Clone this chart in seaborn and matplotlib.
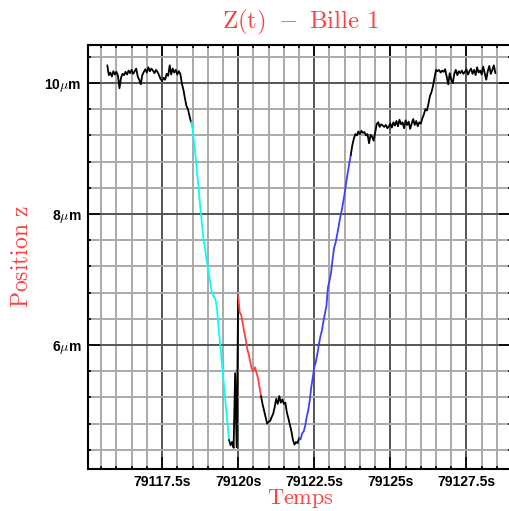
import numpy as np
import pandas as pd
import matplotlib
matplotlib.use("Agg")
import matplotlib.pyplot as plt
import seaborn as sns
from matplotlib.ticker import MultipleLocator, FuncFormatter

# ---------------- data (sampling step 0.05 s) ----------------
DT = 0.05
seg_names = ["black1", "cyan", "black2", "red", "black3", "blue", "black4"]
seg_colors = ["black", "#00FFFF", "black", "#FF4040", "black", "#4040FF", "black"]
seg_start = [79115.70, 79118.45, 79119.70, 79120.00, 79120.75, 79122.00, 79123.70]

z_black1 = [10.27, 10.12, 10.16, 10.10, 10.18, 10.13, 10.17, 10.11, 9.92, 10.08,
            10.14, 10.12, 10.17, 10.13, 10.19, 10.15, 10.20, 10.14, 10.18, 10.22,
            10.10, 10.05, 9.98, 10.12, 10.17, 10.21, 10.16, 10.24, 10.18, 10.22,
            10.19, 10.15, 10.20, 10.17, 10.12, 10.06, 10.03, 10.08, 10.05, 10.14,
            10.11, 10.27, 10.13, 10.22, 10.16, 10.20, 10.13, 10.18, 10.14, 9.99,
            9.90, 9.77, 9.65, 9.60, 9.50, 9.40]
z_cyan = [9.40, 9.30, 9.10, 8.88, 8.62, 8.40, 8.12, 7.90, 7.65, 7.50,
          7.33, 7.20, 7.06, 6.90, 6.78, 6.74, 6.70, 6.58, 6.30, 6.05,
          5.80, 5.55, 5.30, 5.05, 4.80, 4.55]
z_black2 = [4.55, 4.47, 4.52, 4.43, 5.57, 4.44, 6.76]
z_red = [6.76, 6.50, 6.46, 6.33, 6.20, 6.08, 5.94, 5.85, 5.74, 5.63,
         5.60, 5.66, 5.58, 5.50, 5.36, 5.22]
z_black3 = [5.22, 5.10, 5.00, 4.90, 4.80, 4.83, 4.84, 4.90, 4.95, 5.05,
            5.18, 5.10, 5.22, 5.12, 5.17, 5.10, 5.12, 4.97, 4.88, 4.78,
            4.68, 4.55, 4.48, 4.52, 4.50, 4.58]
z_blue = [4.58, 4.56, 4.65, 4.68, 4.76, 4.90, 5.00, 5.15, 5.35, 5.50,
          5.66, 5.74, 5.86, 6.00, 6.13, 6.22, 6.36, 6.48, 6.60, 6.88,
          6.98, 7.10, 7.30, 7.48, 7.56, 7.68, 7.81, 7.94, 8.05, 8.18,
          8.32, 8.48, 8.63, 8.77, 8.90]
z_black4 = [8.90, 9.05, 9.15, 9.22, 9.20, 9.26, 9.22, 9.27, 9.24, 9.25,
            9.20, 9.22, 9.08, 9.21, 9.18, 9.12, 9.24, 9.37, 9.40, 9.33,
            9.37, 9.35, 9.33, 9.36, 9.31, 9.34, 9.38, 9.32, 9.40, 9.35,
            9.42, 9.34, 9.44, 9.37, 9.40, 9.31, 9.43, 9.36, 9.41, 9.30,
            9.38, 9.45, 9.36, 9.42, 9.34, 9.40, 9.38, 9.46, 9.52, 9.60,
            9.58, 9.68, 9.80, 9.86, 9.95, 10.08, 10.20, 10.18, 10.20, 10.16,
            10.19, 10.17, 10.21, 10.10, 9.98, 10.15, 10.05, 10.00, 10.14, 10.20,
            10.12, 10.18, 10.15, 10.19, 10.14, 10.17, 10.21, 10.13, 10.18, 10.22,
            10.14, 10.20, 10.12, 10.24, 10.16, 10.19, 10.13, 10.25, 10.15, 10.05,
            10.18, 10.26, 10.14, 10.20, 10.27, 10.15]
seg_values = [z_black1, z_cyan, z_black2, z_red, z_black3, z_blue, z_black4]

x_major_labels = [79117.5, 79120, 79122.5, 79125, 79127.5]
y_major_labels = [6, 8, 10]

title_text = r"$\mathrm{Z(t)\ -\ Bille\ 1}$"
xlabel_text = r"$\mathrm{Temps}$"
ylabel_text = r"$\mathrm{Position\ z}$"

rows = []
for name, start, vals in zip(seg_names, seg_start, seg_values):
    for k, v in enumerate(vals):
        rows.append((name, start + DT * k, v))
df = pd.DataFrame(rows, columns=["segment", "t", "z"])

# ---------------- figure ----------------
sns.set_style("white")
plt.rcParams["mathtext.fontset"] = "cm"
fig = plt.figure(figsize=(5.10, 5.11), dpi=100)
ax = fig.add_axes([88.3 / 510, 42 / 511, (511.5 - 88.3) / 510, (469 - 44.7) / 511])

for name, col in zip(seg_names, seg_colors):
    sns.lineplot(data=df[df.segment == name], x="t", y="z", ax=ax, color=col,
                 lw=1.3, sort=False, estimator=None)

ax.set_xlim(79115.076, 79128.98)
ax.set_ylim(4.107, 10.585)

ax.xaxis.set_major_locator(MultipleLocator(2.5))
ax.xaxis.set_minor_locator(MultipleLocator(0.5))
ax.yaxis.set_major_locator(MultipleLocator(2))
ax.yaxis.set_minor_locator(MultipleLocator(0.4))
ax.xaxis.set_major_formatter(FuncFormatter(lambda v, p: f"{v:g}s"))
ax.yaxis.set_major_formatter(FuncFormatter(lambda v, p: f"{v:g}" + r"$\mu$m"))

ax.grid(which="major", color="#555555", lw=1.4)
ax.grid(which="minor", color="#aaaaaa", lw=1.4)
ax.tick_params(which="major", direction="in", length=8.5, width=1.2, color="black",
               labelcolor="black", top=True, right=True, bottom=True, left=True, pad=5)
ax.tick_params(which="minor", direction="in", length=2.5, width=1.2, color="black",
               top=True, right=True, bottom=True, left=True)
ax.tick_params(axis="x", which="major", pad=4)
for lab in ax.get_xticklabels() + ax.get_yticklabels():
    lab.set_fontfamily("Liberation Sans")
    lab.set_fontweight("bold")
    lab.set_fontsize(10)

for s in ["left", "top", "bottom", "right"]:
    ax.spines[s].set_color("black")
    ax.spines[s].set_linewidth(1.5)

red = "#FF4040"
ax.set_title(title_text, color=red, fontsize=18, pad=12)
ax.set_xlabel(xlabel_text, color=red, fontsize=16, labelpad=-1)
ax.set_ylabel(ylabel_text, color=red, fontsize=17, labelpad=8)

fig.savefig("out.png", dpi=100)
